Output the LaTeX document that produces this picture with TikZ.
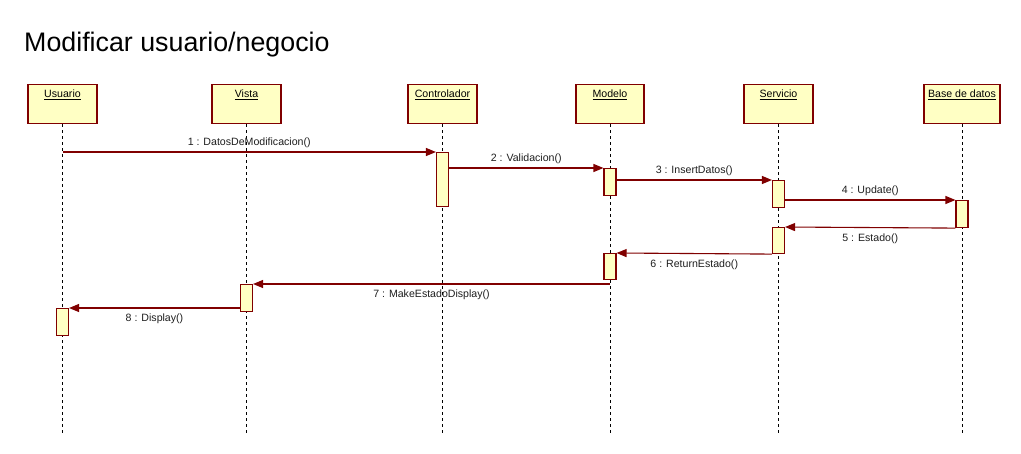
\documentclass[tikz,border=0pt]{standalone}
\usepackage{fontspec}
\setmainfont{Liberation Sans}
\usetikzlibrary{arrows.meta,positioning,calc}
\definecolor{maroon}{RGB}{128,0,0}
\definecolor{paleyellow}{RGB}{255,255,196}
\definecolor{labelgray}{RGB}{30,30,30}

\begin{document}
\begin{tikzpicture}[x=1pt, y=-1pt, >={Triangle[length=10pt,width=8pt]},
   object/.style={draw=maroon, fill=paleyellow, line width=1.1pt, inner sep=0pt,
      minimum height=39pt, anchor=north},
   objname/.style={anchor=center, yshift=-11pt, font=\fontsize{10.6}{12}\selectfont},
   act/.style={draw=maroon, fill=paleyellow, line width=1.1pt, inner sep=0pt,
      minimum width=12pt, anchor=north},
   lifeline/.style={black, line width=0.8pt, dash pattern=on 3pt off 3pt},
   msg/.style={->, draw=maroon, line width=1.1pt},
   msgtxt/.style={font=\fontsize{10.6}{12}\selectfont, text=labelgray, inner sep=0pt},
   up/.style={yshift=9pt},
   down/.style={yshift=-11pt}]

    \useasboundingbox (0,0) rectangle (1021,453);

    \node [anchor=base west, inner sep=0pt, font=\fontsize{26.8}{30}\selectfont] (title) at (24,51) {Modificar usuario/negocio};

    % Place nodes
    \node [object, minimum width=69pt, label={[objname]north:\underline{Usuario}}] (usuario) at (62.5,84) {};
    \node [object, minimum width=69pt, label={[objname]north:\underline{Vista}}] (vista) at (246.5,84) {};
    \node [object, minimum width=69pt, label={[objname]north:\underline{Controlador}}] (controlador) at (442.5,84) {};
    \node [object, minimum width=68pt, label={[objname]north:\underline{Modelo}}] (modelo) at (610,84) {};
    \node [object, minimum width=69pt, label={[objname]north:\underline{Servicio}}] (servicio) at (778.5,84) {};
    \node [object, minimum width=76pt, label={[objname]north:\underline{Base de datos}}] (base) at (962,84) {};

    \coordinate (bottom) at (0,434);
    \foreach \o in {usuario,vista,controlador,modelo,servicio,base}
        \draw [lifeline] (\o.south) -- (\o.south |- bottom);

    \node [act, minimum height=54pt] (actC) at (controlador.south |- 0,152) {};
    \node [act, minimum height=27pt] (actM1) at (modelo.south |- 0,168) {};
    \node [act, minimum height=27pt] (actS1) at (servicio.south |- 0,180) {};
    \node [act, minimum height=27pt] (actB) at (base.south |- 0,200) {};
    \node [act, minimum height=26pt] (actS2) at (servicio.south |- 0,227) {};
    \node [act, minimum height=26pt] (actM2) at (modelo.south |- 0,253) {};
    \node [act, minimum height=27pt] (actV) at (vista.south |- 0,284) {};
    \node [act, minimum height=27pt] (actU) at (usuario.south |- 0,308) {};

    % Draw edges
    \draw [msg] (usuario.south |- actC.north) -- node [msgtxt, up] {1 : DatosDeModificacion()} (actC.north west);
    \draw [msg] (actC.east |- actM1.north) -- node [msgtxt, up] {2 : Validacion()} (actM1.north west);
    \draw [msg] (actM1.north east |- actS1.north) -- node [msgtxt, up] {3 : InsertDatos()} (actS1.north west);
    \draw [msg] (actS1.east |- actB.north) -- node [msgtxt, up] {4 : Update()} (actB.north west);
    \draw [msg] (actB.south west) -- node [msgtxt, down] {5 : Estado()} (actS2.north east);
    \draw [msg] (actS2.south west) -- node [msgtxt, down] {6 : ReturnEstado()} (actM2.north east);
    \draw [msg] (modelo.south |- actV.north) -- node [msgtxt, down] {7 : MakeEstadoDisplay()} (actV.north east);
    \draw [msg] (actV.west |- actU.north) -- node [msgtxt, down] {8 : Display()} (actU.north east);
\end{tikzpicture}
\end{document}
